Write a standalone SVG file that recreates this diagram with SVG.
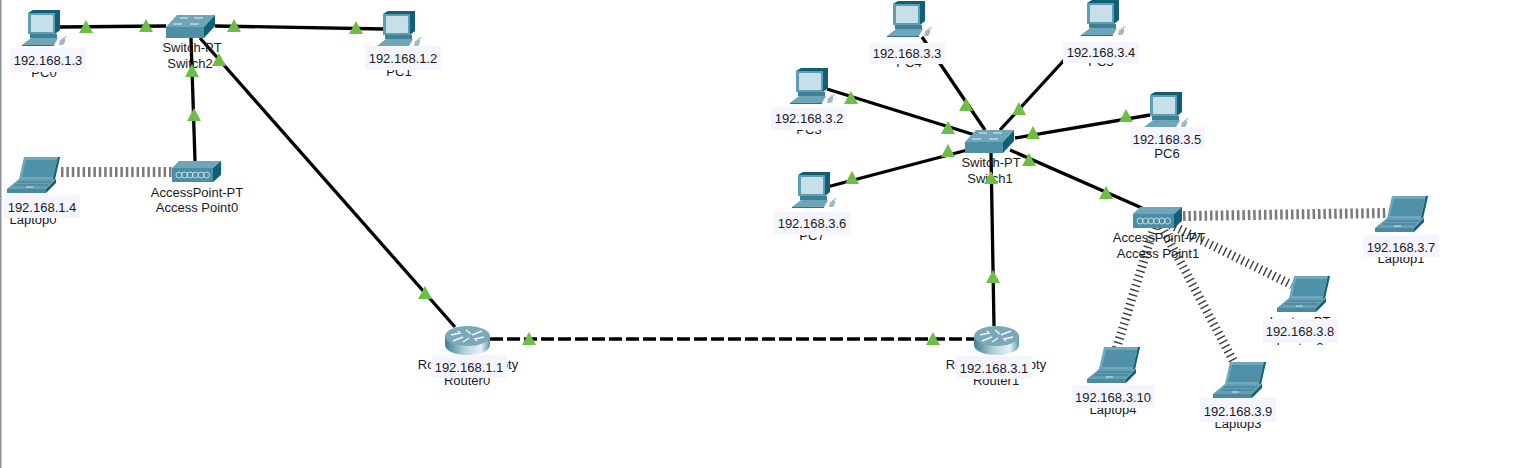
<svg xmlns="http://www.w3.org/2000/svg" width="1517" height="468" viewBox="0 0 1517 468">
<style>
text{font-family:"Liberation Sans",Arial,sans-serif;font-size:13px;fill:#1a1a1a;text-anchor:middle}
.wire{stroke:#000;stroke-width:3.300;fill:none}
.dash{stroke-dasharray:13 4}
.wl{stroke:#7a7a7a;stroke-width:10;stroke-dasharray:2.500 2.900;fill:none}
.wd{stroke:#3c3c3c;stroke-width:9;stroke-dasharray:1.400 3.600;fill:none}
.box{fill:#f5f5ff}
.led{fill:#6cbe45}
</style>
<defs>
<clipPath id="tops"><rect x="1260" y="343" width="80" height="2"/></clipPath>
<linearGradient id="rb" x1="0" x2="1" y1="0" y2="0"><stop offset="0" stop-color="#3f8096"/><stop offset=".45" stop-color="#b5d3dc"/><stop offset=".8" stop-color="#e6f1f4"/><stop offset="1" stop-color="#5d98aa"/></linearGradient>
<symbol id="pc" overflow="visible">
<path d="M0 3L5 0H32V20L27 24H0Z" fill="#0f5f76"/>
<rect x="0" y="3" width="27" height="21" fill="#5e9db3"/>
<rect x="3" y="5" width="22" height="17" rx="1" fill="#c7dfe9"/>
<rect x="2" y="24" width="27" height="4" fill="#3f8096"/>
<path d="M3 28H30L26 35H-6Z" fill="#6ea6b9"/>
<path d="M-6 35H26V36H-6Z" fill="#2f7288"/>
<path d="M32 30L37 28V32L35 35H31Z" fill="#9fb9c4"/>
<path d="M34 29Q37 26 39 27" stroke="#9fb9c4" fill="none"/>
</symbol>
<symbol id="laptop" overflow="visible">
<path d="M17 1H53L48 23H12Z" fill="#6fa8bb"/>
<path d="M51 1H53L48 23H46Z" fill="#0f5f76"/>
<path d="M19 4H50L46 21H15Z" fill="#4e91a8"/>
<path d="M12 23H49L39 33H0Z" fill="#659fb3"/>
<path d="M49 23V27L39 37V33Z" fill="#0f5f76"/>
<path d="M0 33H39V37H0Z" fill="#4a8aa0"/>
<path d="M11 26H44M8 29H41" stroke="#3d7b90" fill="none"/>
<path d="M19 31h7" stroke="#d6e6ec" fill="none"/>
</symbol>
<symbol id="sw" overflow="visible">
<path d="M0 12L11 0H49L38 12Z" fill="#6fa5b8"/>
<rect x="0" y="12" width="38" height="11" fill="#4f8fa6"/>
<path d="M38 12L49 0V11L38 23Z" fill="#0f6076"/>
<path d="M14 3h8M28 3h9M7 9h9M24 9h9" stroke="#e8f2f5" stroke-width="1.200" fill="none"/>
</symbol>
<symbol id="ap" overflow="visible">
<path d="M0 7L7 0H49L41 7Z" fill="#6fa5b8"/>
<rect x="0" y="7" width="41" height="14" fill="#4c8ea6"/>
<path d="M41 7L49 0V14L41 21Z" fill="#0f5f76"/>
<g fill="none" stroke="#dcecf1" stroke-width=".8"><circle cx="7" cy="14" r="3"/><circle cx="12.500" cy="14" r="3"/><circle cx="18" cy="14" r="3"/><circle cx="23.500" cy="14" r="3"/><circle cx="29" cy="14" r="3"/><circle cx="34.500" cy="14" r="3"/></g>
</symbol>
<symbol id="rt" overflow="visible">
<path d="M0 10V19C0 25 10 29 22.500 29S45 25 45 19V10Z" fill="url(#rb)"/>
<ellipse cx="22.500" cy="10" rx="22.500" ry="10" fill="#7aa8b9"/>
<path d="M6 9L15 7L13 5M39 11L30 13L32 15M8 15L18 11M27 9L37 5M21 4L26 8M18 16L24 12" stroke="#f0f6f8" stroke-width="1.500" fill="none"/>
</symbol>
<polygon id="tri" points="0,-7 7,6 -7,6" class="led"/>
</defs>
<rect width="1517" height="468" fill="#fff"/>
<rect width="1.500" height="468" fill="#8a949c"/>
<g id="connectors">
<path class="wire" d="M60 27L166 26"/>
<path class="wire" d="M215 26L384 29"/>
<path class="wire" d="M195 161L191 38"/>
<path class="wire" d="M200 38L455 327"/>
<path class="wire dash" d="M490 339H975"/>
<path class="wire" d="M922 37L985 130"/>
<path class="wire" d="M1067 57L1000 130"/>
<path class="wire" d="M827 89L975 135"/>
<path class="wire" d="M827 187L975 148"/>
<path class="wire" d="M1150 115L1015 138"/>
<path class="wire" d="M1010 150L1142 208"/>
<path class="wire" d="M991 153L994 326"/>
<path class="wl" d="M61 172H172"/>
<path class="wl" d="M1183 216L1388 213"/>
<path class="wd" d="M1157 218L1292 285"/>
<path class="wd" d="M1157 218L1235 364"/>
<path class="wd" d="M1157 218L1116 350"/>
</g>
<g id="PC0"><use href="#pc" x="28" y="10"/><text x="44" y="77">PC0</text><rect class="box" x="10" y="48" width="76" height="24"/><text x="48" y="65">192.168.1.3</text></g>
<g id="PC1"><use href="#pc" x="383" y="11"/><text x="399" y="76">PC1</text><rect class="box" x="365" y="46" width="76" height="24"/><text x="403" y="63">192.168.1.2</text></g>
<g id="Switch2"><use href="#sw" x="166" y="15"/><text x="192" y="52">Switch-PT</text><text x="190" y="68">Switch2</text></g>
<g id="Laptop0"><use href="#laptop" x="7" y="156"/><text x="33" y="224">Laptop0</text><rect class="box" x="4" y="195" width="76" height="23"/><text x="42" y="212">192.168.1.4</text></g>
<g id="AccessPoint0"><use href="#ap" x="172" y="161"/><text x="197" y="197">AccessPoint-PT</text><text x="197" y="212">Access Point0</text></g>
<g id="Router0"><use href="#rt" x="445" y="326"/><text x="468" y="369">Router-PT-Empty</text><text x="467" y="385">Router0</text><rect class="box" x="431" y="355" width="76" height="23"/><text x="469" y="372">192.168.1.1</text></g>
<g id="Router1"><use href="#rt" x="974" y="326"/><text x="996" y="369">Router-PT-Empty</text><text x="996" y="385">Router1</text><rect class="box" x="956" y="356" width="76" height="23"/><text x="994" y="373">192.168.3.1</text></g>
<g id="Switch1"><use href="#sw" x="965" y="130"/><text x="991" y="167">Switch-PT</text><text x="990" y="183">Switch1</text></g>
<g id="PC4"><use href="#pc" x="893" y="1"/><text x="909" y="67">PC4</text><rect class="box" x="869" y="43" width="76" height="21"/><text x="907" y="58">192.168.3.3</text></g>
<g id="PC5"><use href="#pc" x="1087" y="0"/><text x="1101" y="66">PC5</text><rect class="box" x="1063" y="42" width="76" height="21"/><text x="1101" y="57">192.168.3.4</text></g>
<g id="PC3"><use href="#pc" x="796" y="68"/><text x="809" y="134">PC3</text><rect class="box" x="771" y="107" width="76" height="23"/><text x="809" y="123">192.168.3.2</text></g>
<g id="PC6"><use href="#pc" x="1150" y="92"/><text x="1167" y="158">PC6</text><rect class="box" x="1130" y="127" width="75" height="22"/><text x="1167" y="144">192.168.3.5</text></g>
<g id="PC7"><use href="#pc" x="798" y="172"/><text x="812" y="240">PC7</text><rect class="box" x="774" y="212" width="76" height="23"/><text x="812" y="228">192.168.3.6</text></g>
<g id="AccessPoint1"><use href="#ap" x="1133" y="207"/><text x="1159" y="242">AccessPoint-PT</text><text x="1158" y="258">Access Point1</text></g>
<g id="Laptop1"><use href="#laptop" x="1375" y="195"/><text x="1401" y="263">Laptop1</text><rect class="box" x="1363" y="235" width="76" height="22"/><text x="1401" y="252">192.168.3.7</text></g>
<g id="Laptop2"><use href="#laptop" x="1277" y="275"/><text x="1300" y="326">Laptop-PT</text><text x="1300" y="352" clip-path="url(#tops)">Laptop2</text><rect class="box" x="1263" y="319" width="75" height="24"/><text x="1300" y="336">192.168.3.8</text></g>
<g id="Laptop3"><use href="#laptop" x="1213" y="361"/><text x="1238" y="428">Laptop3</text><rect class="box" x="1200" y="398" width="76" height="24"/><text x="1238" y="416">192.168.3.9</text></g>
<g id="Laptop4"><use href="#laptop" x="1087" y="346"/><text x="1113" y="414">Laptop4</text><rect class="box" x="1072" y="385" width="83" height="23"/><text x="1113" y="402">192.168.3.10</text></g>
<g id="link-lights">
<use href="#tri" x="86" y="27"/><use href="#tri" x="146" y="26"/><use href="#tri" x="234" y="26"/><use href="#tri" x="356" y="28"/>
<use href="#tri" x="192" y="71"/><use href="#tri" x="194" y="115"/><use href="#tri" x="219" y="60"/><use href="#tri" x="425" y="293"/>
<use href="#tri" x="529" y="339"/><use href="#tri" x="933" y="339"/>
<use href="#tri" x="851" y="98"/><use href="#tri" x="948" y="128"/><use href="#tri" x="966" y="105"/><use href="#tri" x="1019" y="109"/>
<use href="#tri" x="1033" y="133"/><use href="#tri" x="1126" y="116"/><use href="#tri" x="948" y="151"/><use href="#tri" x="852" y="178"/>
<use href="#tri" x="1029" y="160"/><use href="#tri" x="1106" y="193"/><use href="#tri" x="991" y="178"/><use href="#tri" x="993" y="277"/>
</g>
</svg>
